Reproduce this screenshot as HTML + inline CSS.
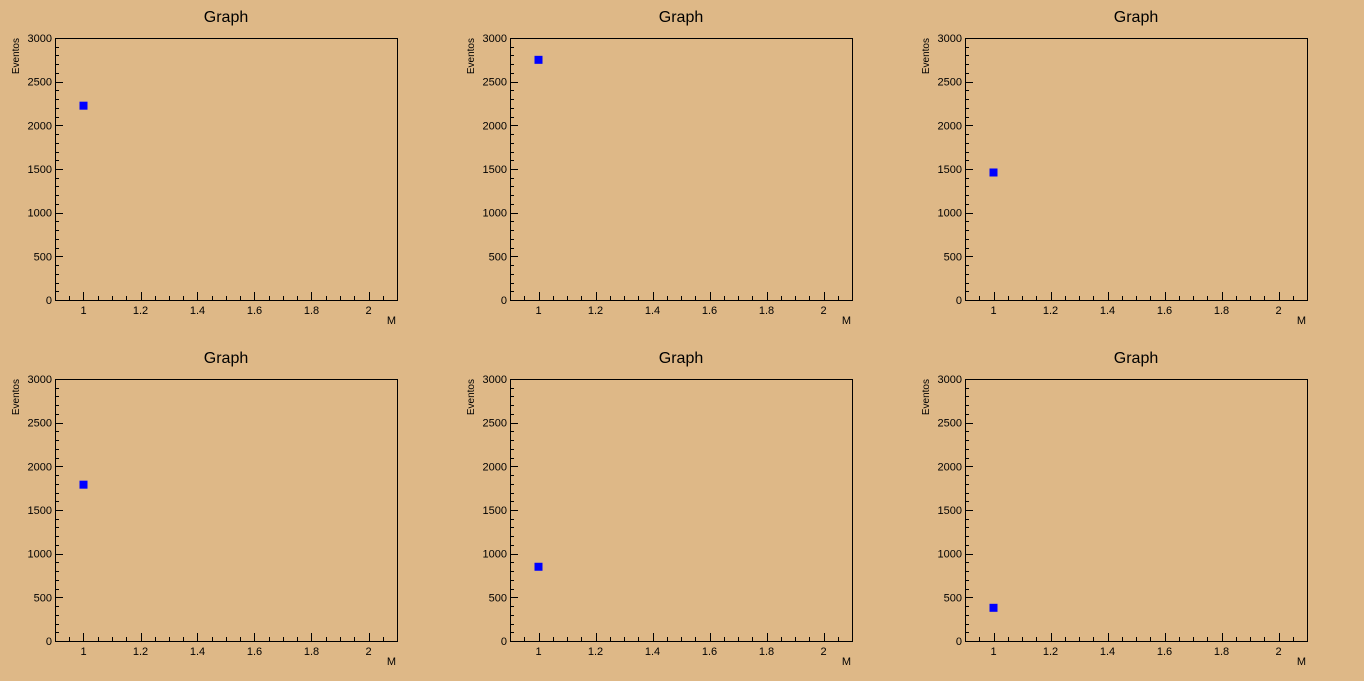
<!DOCTYPE html>
<html><head><meta charset="utf-8"><style>
html,body{margin:0;padding:0;background:#deb887;}
svg{display:block;font-family:"Liberation Sans",sans-serif;}
</style></head><body>
<svg id="c" width="1364" height="681"></svg>
<script>
const panelTitles = ["Graph","Graph","Graph","Graph","Graph","Graph"];
const xValues = [1,1,1,1,1,1];
const yValues = [2225,2750,1460,1790,850,380];
const yTicks = [0,500,1000,1500,2000,2500,3000];
const xTicks = [1,1.2,1.4,1.6,1.8,2];
const xLabels = ["1","1.2","1.4","1.6","1.8","2"];
const xMin=0.9, xMax=2.1, yMin=0, yMax=3000;
const NS="http://www.w3.org/2000/svg";
const svg=document.getElementById('c');
function mk(t,a,p){const e=document.createElementNS(NS,t);for(const k in a)e.setAttribute(k,a[k]);(p||svg).appendChild(e);return e;}
const W=342,H=262;
for(let i=0;i<6;i++){
  const ox=55+(i%3)*455, oy=38+Math.floor(i/3)*341;
  const sx=v=>ox+(v-xMin)/(xMax-xMin)*W;
  const sy=v=>oy+H-(v-yMin)/(yMax-yMin)*H;
  const g=mk('g',{});
  
  
  const t=mk('text',{x:ox+171,y:oy-16,'text-anchor':'middle','font-size':16,fill:'#000'},g);
  t.textContent=panelTitles[i];
  
  
  const f=mk('rect',{x:ox+0.5,y:oy+0.5,width:W,height:H,fill:'none',stroke:'#000','stroke-width':1},g);
  
  
  // y ticks
  for(let v=yMin;v<=yMax;v+=100){
    const y=Math.round(sy(v))+0.5, maj=v%500===0;
    mk('line',{x1:ox,x2:ox+(maj?8:4),y1:y,y2:y,stroke:'#000'},g);
  }
  yTicks.forEach(v=>{
    const l=mk('text',{x:ox-3,y:sy(v)+4,'text-anchor':'end','font-size':11,fill:'#000'},g);
    l.textContent=String(v);
    
    
  });
  // x ticks
  for(let k=0;k<=24;k++){
    const v=xMin+k*0.05; const x=Math.round(sx(v))+0.5;
    const maj=Math.abs((v*10)%2)<0.01||Math.abs((v*10)%2-2)<0.01;
    mk('line',{x1:x,x2:x,y1:oy+H,y2:oy+H-(maj?8:4),stroke:'#000'},g);
  }
  xTicks.forEach((v,j)=>{
    const l=mk('text',{x:sx(v),y:oy+H+14,'text-anchor':'middle','font-size':11,fill:'#000'},g);
    l.textContent=xLabels[j];
    
    
  });
  const xt=mk('text',{x:ox+W-1,y:oy+H+24,'text-anchor':'end','font-size':11,fill:'#000'},g);
  xt.textContent='M';
  
  
  const yt=mk('text',{x:0,y:0,'text-anchor':'end','font-size':10,fill:'#000',transform:`translate(${ox-36},${oy}) rotate(-90)`},g);
  yt.textContent='Eventos';
  
  
  const m=mk('rect',{x:sx(xValues[i])-4,y:sy(yValues[i])-4,width:8,height:8,fill:'#0000ff'},g);
  
  
}
</script>
</body></html>
